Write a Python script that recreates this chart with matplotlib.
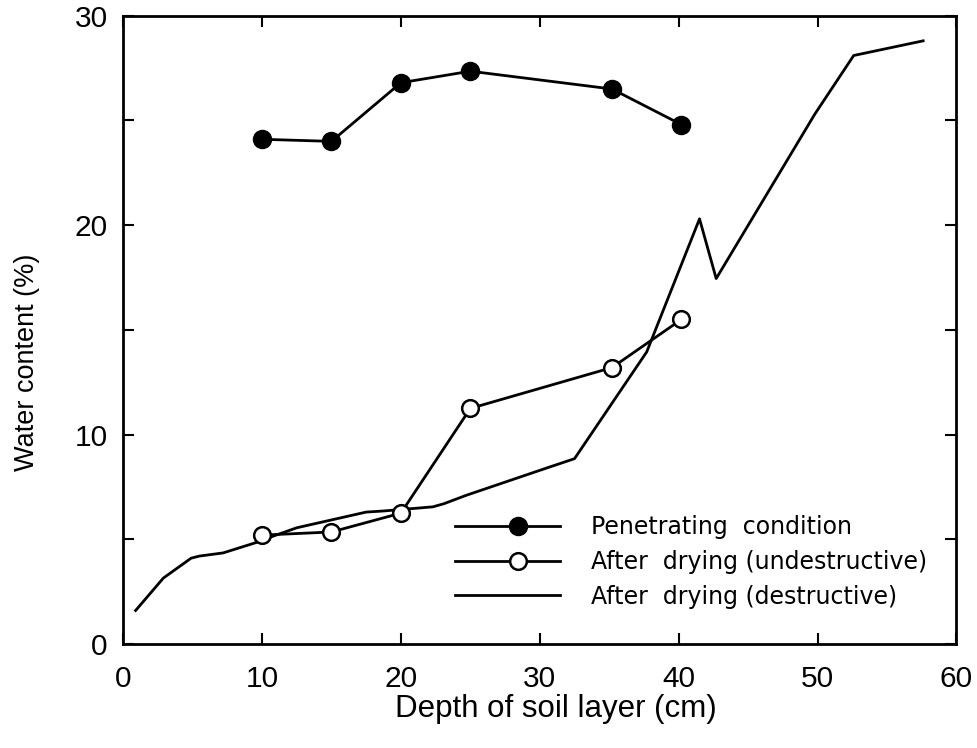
import numpy as np
import matplotlib
matplotlib.use("Agg")
import matplotlib.pyplot as plt
from matplotlib.lines import Line2D
from matplotlib.legend_handler import HandlerLine2D
from matplotlib.ticker import MultipleLocator

plt.rcParams['font.family'] = ['Liberation Sans', 'DejaVu Sans']

# Penetrating condition (filled circles)
pen_depth = [10, 15, 20, 25, 35.2, 40.2]
pen_water = [24.1, 24.0, 26.8, 27.35, 26.5, 24.8]

# After drying, undestructive (open circles)
und_depth = [10, 15, 20, 25, 35.2, 40.2]
und_water = [5.2, 5.35, 6.25, 11.25, 13.2, 15.5]

# After drying, destructive (continuous profile)
des_depth = [0.9, 2.9, 4.9, 5.5, 7.2, 9.6, 10.8, 12.5, 17.5, 18.7, 22.3, 23.1,
             24.7, 30.7, 32.5, 37.7, 41.5, 42.7, 49.8, 52.6, 57.6]
des_water = [1.6, 3.15, 4.1, 4.2, 4.35, 4.85, 5.15, 5.55, 6.3, 6.35, 6.55, 6.7,
             7.1, 8.45, 8.85, 13.95, 20.3, 17.45, 25.3, 28.1, 28.8]

labels = ["Penetrating  condition",
          "After  drying (undestructive)",
          "After  drying (destructive)"]


class ShiftedMarkerHandler(HandlerLine2D):
    """Legend key with the marker sitting right of centre."""
    def create_artists(self, legend, orig_handle, xdescent, ydescent,
                       width, height, fontsize, trans):
        artists = super().create_artists(legend, orig_handle, xdescent, ydescent,
                                         width, height, fontsize, trans)
        line = artists[0]
        xd = np.asarray(line.get_xdata(), dtype=float)
        if len(xd) == 3:
            line.set_xdata([xd[0], xd[0] + 0.6 * (xd[-1] - xd[0]), xd[-1]])
        return artists


fig = plt.figure(figsize=(9.77, 7.48), dpi=100)
ax = fig.add_axes([0.126, 0.139, 0.853, 0.840])

ax.plot(des_depth, des_water, color='black', lw=2.0)
ax.plot(und_depth, und_water, color='black', lw=2.0, marker='o', ms=12,
        mfc='white', mec='black', mew=1.8)
ax.plot(pen_depth, pen_water, color='black', lw=2.0, marker='o', ms=13,
        mfc='black', mec='black')

ax.set_xlim(0, 60)
ax.set_ylim(0, 30)
ax.xaxis.set_major_locator(MultipleLocator(10))
ax.yaxis.set_major_locator(MultipleLocator(10))
ax.yaxis.set_minor_locator(MultipleLocator(5))
ax.tick_params(which='both', direction='in', top=True, right=True,
               width=1.5, length=8, labelsize=21.5)
ax.tick_params(axis='x', pad=15)
ax.tick_params(axis='y', pad=11)
for s in ax.spines.values():
    s.set_linewidth(2.0)

ax.set_xlabel('Depth of soil layer (cm)', fontsize=22.5)
ax.xaxis.set_label_coords(0.519, -0.080)
ax.set_ylabel('Water content (%)', fontsize=19.5)
ax.yaxis.set_label_coords(-0.100, 0.449)

handles = [
    Line2D([], [], color='black', lw=2.0, marker='o', ms=13, mfc='black'),
    Line2D([], [], color='black', lw=2.0, marker='o', ms=12, mfc='white', mew=1.8),
    Line2D([], [], color='black', lw=2.0),
]
leg = ax.legend(handles, labels, loc='center left', bbox_to_anchor=(0.3986, 0.1306),
                frameon=False, handlelength=4.45, handletextpad=1.3,
                labelspacing=0.45, borderaxespad=0, borderpad=0,
                handler_map={Line2D: ShiftedMarkerHandler()},
                prop={'family': 'DejaVu Sans', 'size': 17})

fig.savefig('out.png', dpi=100)
